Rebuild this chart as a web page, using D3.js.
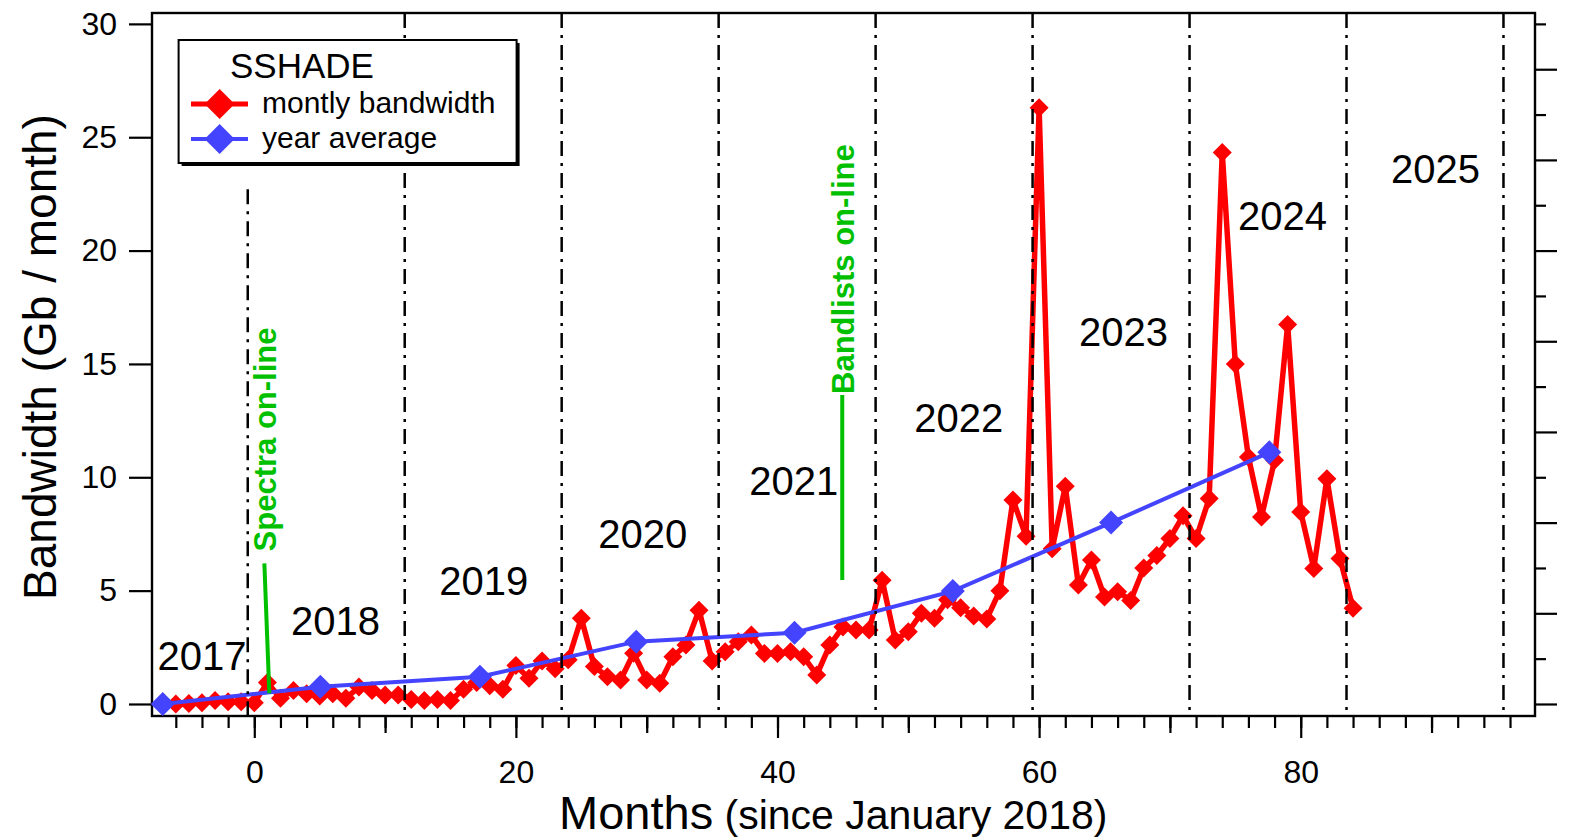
<!DOCTYPE html>
<html>
<head>
<meta charset="utf-8">
<script src="https://cdn.jsdelivr.net/npm/d3@7"></script>
<style>
  html, body { margin: 0; padding: 0; background: #fff; }
  svg { display: block; font-family: "Liberation Sans", Arial, Helvetica, sans-serif; }
</style>
</head>
<body>
<svg id="chart" width="1573" height="839"></svg>
<script>
// ---- data -------------------------------------------------------------
// Monthly bandwidth (Gb / month), one value per month starting at firstMonth
const firstMonth = -7;
const monthlyBandwidth = [
  0.0, 0.0, 0.02, 0.05, 0.15, 0.1, 0.1, 0.05,
  0.95, 0.25, 0.6, 0.45, 0.35, 0.45, 0.25, 0.75, 0.6, 0.4, 0.4,
  0.2, 0.15, 0.2, 0.15, 0.65, 0.95, 0.8, 0.65, 1.7, 1.13, 1.9, 1.55,
  1.95, 3.78, 1.65, 1.2, 1.06, 2.24, 1.06, 0.92, 2.08, 2.6, 4.14, 1.9,
  2.3, 2.74, 3.04, 2.23, 2.23, 2.3, 2.08, 1.28, 2.6, 3.4, 3.26, 3.26,
  5.46, 2.82, 3.19, 4.0, 3.78, 4.6, 4.25, 3.88, 3.75, 5.0, 9.0, 7.4,
  26.3, 6.85, 9.6, 5.25, 6.35, 4.72, 4.95, 4.57, 6.0, 6.55, 7.3, 8.3,
  7.3, 9.06, 24.33, 15.0, 10.9, 8.25, 10.75, 16.74, 8.47, 5.98, 9.94, 6.42,
  4.22
];

// Yearly averages
const yearAverageMonth = [-7, 5.05, 17.25, 29.2, 41.3, 53.4, 65.5, 77.6];
const yearAverageValue = [0.0, 0.76, 1.2, 2.75, 3.14, 4.98, 8.0, 11.1];

// Year names and where they sit (month, value)
const yearNames      = ["2017", "2018", "2019", "2020", "2021", "2022", "2023", "2024", "2025"];
const yearLabelMonth = [-4.0, 6.2, 17.55, 29.7, 41.25, 53.85, 66.45, 78.6, 90.3];
const yearLabelValue = [1.5, 3.04, 4.81, 6.87, 9.22, 12.0, 15.79, 20.9, 23.0];

// Year boundaries (dash-dot lines) and the value each line starts from
const yearBoundaries = [-0.5, 11.5, 23.5, 35.5, 47.5, 59.5, 71.5, 83.5, 95.5];
const yearBoundaryTop = [22.7, 30.5, 30.5, 30.5, 30.5, 30.5, 30.5, 30.5, 30.5];

// Milestones
const milestoneLabels      = ["Spectra on-line", "Bandlists on-line"];
const milestoneTopMonth    = [0.77, 44.95];
const milestoneTopValue    = [6.2, 13.63];
const milestoneBottomMonth = [1.15, 44.95];
const milestoneBottomValue = [0.47, 5.47];

// Axes
const xDomain = [-7.82, 97.91];
const yDomain = [-0.53, 30.48];
const xMajorTicks  = [0, 20, 40, 60, 80];
const xMediumTicks = [10, 30, 50, 70, 90];
const xMinorTicks  = d3.range(-6, 97, 2);
const yLeftTicks   = [0, 5, 10, 15, 20, 25, 30];
const yRightTicks  = d3.range(0, 31, 2);

const legendTitle = "SSHADE";
const seriesNames = ["montly bandwidth", "year average"];
const seriesColors = ["#ff0000", "#4444ff"];
const milestoneColor = "#00c000";

// ---- layout -----------------------------------------------------------
const plotLeft = 152, plotRight = 1535, plotTop = 13, plotBottom = 716;

const svg = d3.select("#chart");
const x = d3.scaleLinear().domain(xDomain).range([plotLeft, plotRight]);
const y = d3.scaleLinear().domain(yDomain).range([plotBottom, plotTop]);

const monthly = monthlyBandwidth.map((v, i) => ({ m: firstMonth + i, v }));
const yearly = yearAverageMonth.map((m, i) => ({ m, v: yearAverageValue[i] }));

const diamond = h => `M0,${-h}L${h},0L0,${h}L${-h},0Z`;

// ---- axes -------------------------------------------------------------
function styleAxis(g) {
  g.select(".domain").remove();
  g.selectAll(".tick line").attr("stroke", "#000").attr("stroke-width", 2.2);
  g.selectAll(".tick text").attr("fill", "#000");
}

// bottom: minor, medium, major ticks
svg.append("g").attr("transform", `translate(0,${plotBottom})`)
  .call(d3.axisBottom(x).tickValues(xMinorTicks).tickSize(12).tickFormat(""))
  .call(styleAxis);
svg.append("g").attr("transform", `translate(0,${plotBottom})`)
  .call(d3.axisBottom(x).tickValues(xMediumTicks).tickSize(17).tickFormat(""))
  .call(styleAxis);
svg.append("g").attr("transform", `translate(0,${plotBottom})`)
  .call(d3.axisBottom(x).tickValues(xMajorTicks).tickSize(22).tickPadding(22).tickFormat(d3.format("d")))
  .call(styleAxis)
  .call(g => g.selectAll(".tick text").attr("font-size", 32).attr("font-family", null));

// left
svg.append("g").attr("transform", `translate(${plotLeft},0)`)
  .call(d3.axisLeft(y).tickValues(yLeftTicks).tickSize(23).tickPadding(12).tickFormat(d3.format("d")))
  .call(styleAxis)
  .call(g => g.selectAll(".tick text").attr("font-size", 32).attr("font-family", null));

// right: short ticks every 2, long ticks every 4
svg.append("g").attr("transform", `translate(${plotRight},0)`)
  .call(d3.axisRight(y).tickValues(yRightTicks).tickSizeInner(11).tickFormat(""))
  .call(styleAxis)
  .call(g => g.selectAll(".tick line").attr("x2", d => d % 4 === 0 ? 22 : 11));

// frame
svg.append("rect")
  .attr("x", plotLeft).attr("y", plotTop)
  .attr("width", plotRight - plotLeft).attr("height", plotBottom - plotTop)
  .attr("fill", "none").attr("stroke", "#000").attr("stroke-width", 2.4);

// ---- series -----------------------------------------------------------
const line = d3.line().x(d => x(d.m)).y(d => y(d.v));

svg.append("path").datum(monthly)
  .attr("d", line).attr("fill", "none")
  .attr("stroke", seriesColors[0]).attr("stroke-width", 5.5)
  .attr("stroke-linejoin", "round");
svg.append("g").selectAll("path").data(monthly).join("path")
  .attr("d", diamond(9.5))
  .attr("transform", d => `translate(${x(d.m)},${y(d.v)})`)
  .attr("fill", seriesColors[0]);

svg.append("path").datum(yearly)
  .attr("d", line).attr("fill", "none")
  .attr("stroke", seriesColors[1]).attr("stroke-width", 4);
svg.append("g").selectAll("path").data(yearly).join("path")
  .attr("d", diamond(12))
  .attr("transform", d => `translate(${x(d.m)},${y(d.v)})`)
  .attr("fill", seriesColors[1]);

// ---- year boundaries and labels --------------------------------------
svg.append("g").selectAll("line").data(yearBoundaries).join("line")
  .attr("x1", d => x(d)).attr("x2", d => x(d))
  .attr("y1", (d, i) => y(Math.min(yearBoundaryTop[i], yDomain[1])))
  .attr("y2", plotBottom)
  .attr("stroke", "#000").attr("stroke-width", 2.5)
  .attr("stroke-dasharray", "15,7,3,7");

svg.append("g").selectAll("text").data(yearNames).join("text")
  .attr("x", (d, i) => x(yearLabelMonth[i]))
  .attr("y", (d, i) => y(yearLabelValue[i]))
  .attr("text-anchor", "middle")
  .attr("font-size", 40)
  .attr("fill", "#000")
  .text(d => d);

// ---- milestones -------------------------------------------------------
const ms = svg.append("g");
milestoneLabels.forEach((label, i) => {
  ms.append("line")
    .attr("x1", x(milestoneTopMonth[i])).attr("y1", y(milestoneTopValue[i]))
    .attr("x2", x(milestoneBottomMonth[i])).attr("y2", y(milestoneBottomValue[i]))
    .attr("stroke", milestoneColor).attr("stroke-width", 4);
  const gap = i === 0 ? 12 : 1;
  ms.append("text")
    .attr("transform", `translate(${x(milestoneTopMonth[i]) + 12},${y(milestoneTopValue[i]) - gap}) rotate(-90)`)
    .attr("font-size", 31).attr("font-weight", "bold")
    .attr("fill", milestoneColor)
    .text(label);
});

// ---- axis titles ------------------------------------------------------
svg.append("text")
  .attr("transform", "translate(56,357) rotate(-90)")
  .attr("text-anchor", "middle")
  .attr("font-size", 46)
  .attr("fill", "#000")
  .text("Bandwidth (Gb / month)");

const xt = svg.append("text").attr("x", 559).attr("y", 829).attr("fill", "#000");
xt.append("tspan").attr("font-size", 47).text("Months");
xt.append("tspan").attr("font-size", 41).text(" (since January 2018)");

// ---- legend -----------------------------------------------------------
const lg = svg.append("g");
const lgX = 178.6, lgY = 40, lgW = 338, lgH = 123;
lg.append("rect").attr("x", lgX + 3).attr("y", lgY + 3).attr("width", lgW).attr("height", lgH).attr("fill", "#000");
lg.append("rect").attr("x", lgX).attr("y", lgY).attr("width", lgW).attr("height", lgH)
  .attr("fill", "#fff").attr("stroke", "#000").attr("stroke-width", 2);
lg.append("text").attr("x", 230).attr("y", 78).attr("font-size", 35).attr("fill", "#000").text(legendTitle);

const rowY = [104, 139];
const textY = [113, 148];
const lineW = [5, 4];
seriesNames.forEach((name, i) => {
  lg.append("line").attr("x1", 191).attr("x2", 248).attr("y1", rowY[i]).attr("y2", rowY[i])
    .attr("stroke", seriesColors[i]).attr("stroke-width", lineW[i]);
  lg.append("path").attr("d", diamond(15)).attr("transform", `translate(219.6,${rowY[i]})`)
    .attr("fill", seriesColors[i]);
  lg.append("text").attr("x", 262).attr("y", textY[i]).attr("font-size", 30).attr("fill", "#000").text(name);
});
</script>
</body>
</html>
